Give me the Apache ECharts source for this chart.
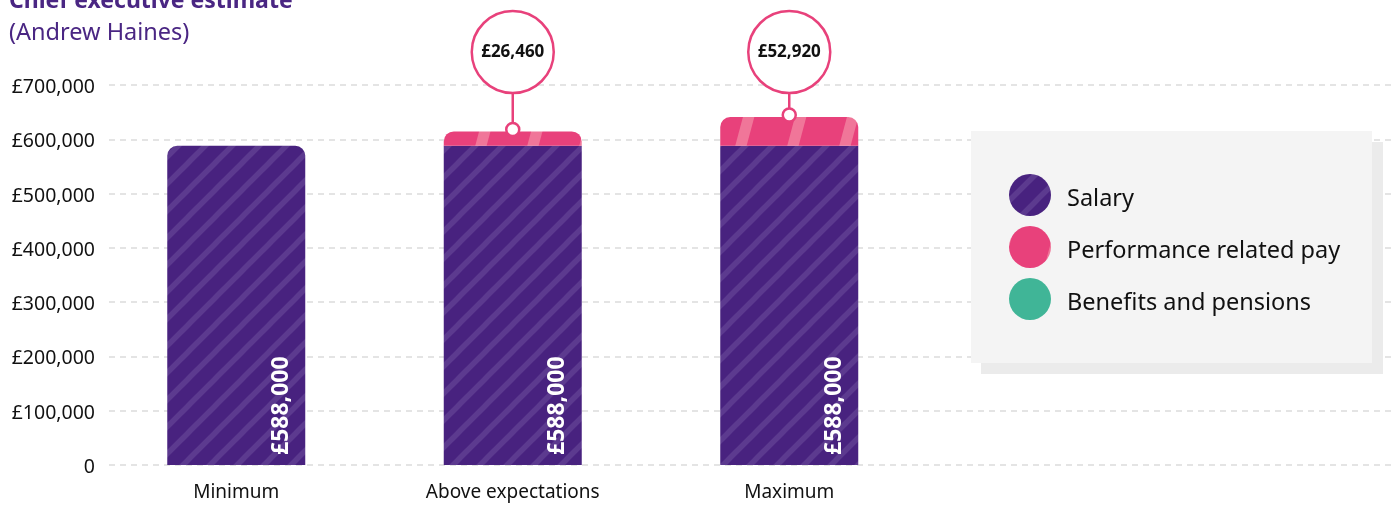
<!DOCTYPE html>
<html>
<head>
<meta charset="utf-8">
<script src="https://cdn.jsdelivr.net/npm/echarts@6/dist/echarts.min.js"></script>
<style>
  html, body { margin: 0; padding: 0; background: #ffffff; }
  #chart { width: 1391px; height: 507px; }
</style>
</head>
<body>
<div id="chart"></div>
<script>
// Remuneration scenarios for the chief executive
const categories = ['Minimum', 'Above expectations', 'Maximum'];
const salary = [588000, 588000, 588000];
const performancePay = [0, 26460, 52920];
const benefits = [0, 0, 0];
const yTicks = [0, 100000, 200000, 300000, 400000, 500000, 600000, 700000];
const seriesNames = ['Salary', 'Performance related pay', 'Benefits and pensions'];

const FONT = '"Noto Sans", "Open Sans", sans-serif';
const PURPLE = '#48227f';
const PURPLE_STRIPE = '#5c3a8f';
const PINK = '#e8417b';
const PINK_STRIPE = '#f07699';
const TEAL = '#40b597';

// Diagonal 45° stripes for the salary fill
function makeSalaryPattern() {
  const p = 27;
  const c = document.createElement('canvas');
  c.width = p; c.height = p;
  const g = c.getContext('2d');
  g.fillStyle = PURPLE;
  g.fillRect(0, 0, p, p);
  g.strokeStyle = PURPLE_STRIPE;
  g.lineWidth = 5.5;
  for (let k = -1; k <= 1; k++) {
    g.beginPath();
    g.moveTo(k * p - 2, p + 2);
    g.lineTo(k * p + p + 2, -2);
    g.stroke();
  }
  return c;
}

// Wide, steep stripes for the performance pay fill
function makePerfPattern() {
  const w = 52, h = 194;
  const c = document.createElement('canvas');
  c.width = w; c.height = h;
  const g = c.getContext('2d');
  g.fillStyle = PINK;
  g.fillRect(0, 0, w, h);
  g.strokeStyle = PINK_STRIPE;
  g.lineWidth = 11;
  for (let k = -1; k <= 1; k++) {
    g.beginPath();
    g.moveTo(k * w, h);
    g.lineTo(k * w + w, 0);
    g.stroke();
  }
  return c;
}

const salaryFill = { image: makeSalaryPattern(), repeat: 'repeat' };
const perfFill = { image: makePerfPattern(), repeat: 'repeat' };

function money(v) {
  return '£' + v.toLocaleString('en-GB');
}

const chart = echarts.init(document.getElementById('chart'), null, { renderer: 'canvas' });

const salaryData = salary.map((v, i) => ({
  value: v,
  itemStyle: { borderRadius: performancePay[i] > 0 ? 0 : [10, 10, 0, 0] }
}));
const perfData = performancePay.map(v => ({
  value: v,
  itemStyle: { borderRadius: [10, 10, 0, 0] }
}));

const calloutData = categories.map((c, i) => [i, salary[i] + performancePay[i], performancePay[i]]);

chart.setOption({
  animation: false,
  textStyle: { fontFamily: FONT },
  graphic: [
    { type: 'text', z: 10, style: { x: 9, y: 1, text: 'Chief executive estimate', font: 'bold 23px ' + FONT, fill: '#4a2683', verticalAlign: 'middle' } },
    { type: 'text', z: 10, style: { x: 9, y: 33, text: '(Andrew Haines)', font: '23.5px ' + FONT, fill: '#4a2683', verticalAlign: 'middle' } },
    { type: 'rect', z: 1, shape: { x: 981, y: 142, width: 402, height: 232 }, style: { fill: '#ebebeb' } },
    { type: 'rect', z: 1, shape: { x: 971, y: 131, width: 401, height: 232 }, style: { fill: '#f4f4f4' } }
  ],
  legend: {
    data: seriesNames,
    orient: 'vertical',
    left: 1009,
    top: 174,
    padding: 0,
    itemWidth: 42,
    itemHeight: 42,
    itemGap: 10,
    icon: 'circle',
    selectedMode: false,
    z: 5,
    formatter: name => '{t|' + name + '}',
    textStyle: {
      fontSize: 23.5, color: '#111111', fontFamily: FONT, padding: [0, 0, 0, 11],
      rich: { t: { fontSize: 23.5, color: '#111111', fontFamily: FONT, padding: [8, 0, 0, 0] } }
    }
  },
  grid: [
    { left: 109, right: 0, top: 85, bottom: 42 },
    { left: 98, width: 829.5, top: 85, bottom: 42 }
  ],
  xAxis: [
    { gridIndex: 0, type: 'category', data: [''], show: false },
    {
      gridIndex: 1, type: 'category', data: categories,
      axisLine: { show: false }, axisTick: { show: false },
      axisLabel: { color: '#111111', fontSize: 19, margin: 18, fontFamily: FONT }
    }
  ],
  yAxis: [
    {
      gridIndex: 0, type: 'value', min: yTicks[0], max: yTicks[yTicks.length - 1],
      interval: yTicks[1] - yTicks[0],
      axisLine: { show: false }, axisTick: { show: false },
      axisLabel: {
        color: '#111111', fontSize: 19.5, margin: 14, fontFamily: FONT,
        formatter: v => '{v|' + (v === 0 ? '0' : money(v)) + '}',
        rich: { v: { fontSize: 19.5, color: '#111111', fontFamily: FONT, padding: [5, 0, 0, 0] } }
      },
      splitLine: { lineStyle: { color: '#dcdcdc', type: [6, 5], width: 1.5 } }
    },
    {
      gridIndex: 1, type: 'value', min: yTicks[0], max: yTicks[yTicks.length - 1],
      interval: yTicks[1] - yTicks[0], show: false, splitLine: { show: false }
    }
  ],
  series: [
    {
      name: seriesNames[0], type: 'bar', stack: 'pay', xAxisIndex: 1, yAxisIndex: 1,
      barWidth: 138, data: salaryData,
      itemStyle: { color: salaryFill },
      label: {
        show: true, position: 'insideBottom', rotate: 90, align: 'left', verticalAlign: 'middle',
        distance: 10, offset: [0, 45],
        color: '#ffffff', fontWeight: 'bold', fontSize: 23, fontFamily: FONT,
        formatter: p => money(p.value)
      },
      z: 2
    },
    {
      name: seriesNames[1], type: 'bar', stack: 'pay', xAxisIndex: 1, yAxisIndex: 1,
      barWidth: 138, data: perfData,
      itemStyle: { color: perfFill },
      z: 2
    },
    {
      name: seriesNames[2], type: 'bar', stack: 'pay', xAxisIndex: 1, yAxisIndex: 1,
      barWidth: 138, data: benefits,
      itemStyle: { color: TEAL },
      z: 2
    },
    {
      // Bubble callouts stating the performance pay of each scenario
      type: 'custom', xAxisIndex: 1, yAxisIndex: 1, clip: false, z: 6,
      data: calloutData,
      renderItem: (params, api) => {
        const perf = api.value(2);
        if (!perf) return null;
        const pt = api.coord([api.value(0), api.value(1)]);
        const cx = pt[0];
        const anchorY = pt[1] - 2;
        const bubbleY = params.coordSys.y - 33;
        const r = 41;
        return {
          type: 'group',
          children: [
            { type: 'line', shape: { x1: cx, y1: bubbleY + r, x2: cx, y2: anchorY }, style: { stroke: PINK, lineWidth: 2.5 } },
            { type: 'circle', shape: { cx: cx, cy: bubbleY, r: r }, style: { fill: '#ffffff', stroke: PINK, lineWidth: 2.5 } },
            { type: 'circle', shape: { cx: cx, cy: anchorY, r: 6.5 }, style: { fill: '#ffffff', stroke: PINK, lineWidth: 2.5 } },
            { type: 'text', style: { x: cx, y: bubbleY, text: money(perf), align: 'center', verticalAlign: 'middle', font: 'bold 17px ' + FONT, fill: '#111111' } }
          ]
        };
      }
    }
  ]
});
</script>
</body>
</html>
